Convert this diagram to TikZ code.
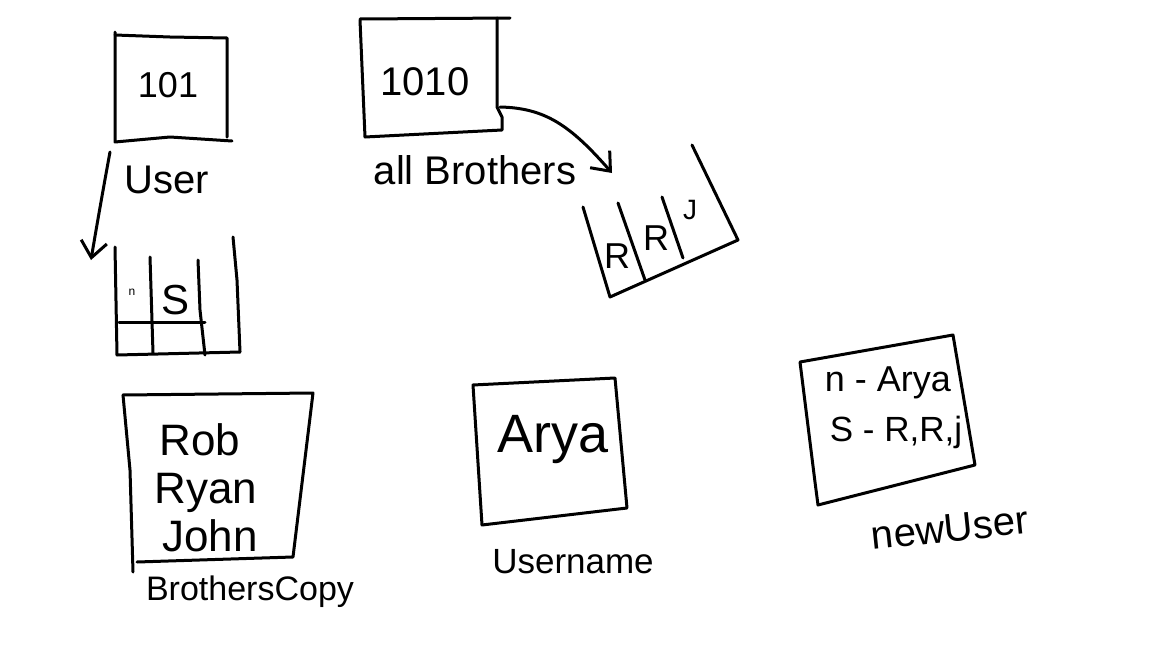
\documentclass[tikz,border=0pt]{standalone}
\usepackage{fontspec}
\setmainfont{Liberation Sans}
\usetikzlibrary{arrows.meta}
\newcommand\fsz[1]{\fontsize{#1pt}{#1pt}\selectfont}
\begin{document}
\begin{tikzpicture}[x=1pt,y=-1pt,
  ink/.style={draw=black, line width=3pt, line cap=round, line join=round},
  txt/.style={inner sep=0pt, text=black},
  conn/.style={ink, -{Straight Barb[length=16pt,width=26pt,line width=3pt]}}]
\useasboundingbox (0,0) rectangle (1152,648);
\fill[white] (0,0) rectangle (1152,648);

% ---- box 101 ----
\draw[ink] (115,32) -- (115,142) -- (170,137) -- (232,141);
\draw[ink] (115,35) -- (170,37) -- (227,38) -- (227,137);
\node[txt, font=\fsz{36}] (v101) at (168,85) {101};
\node[txt, font=\fsz{40}] (lUser) at (167,180) {User};
\coordinate (a1s) at (110,152);
\coordinate (a1e) at (91,260);

% ---- user grid ----
\draw[ink] (115,247) -- (117,355) -- (240,352);
\draw[ink] (233,237) -- (237,280) -- (240,352);
\draw[ink] (150,257) -- (153,353);
\draw[ink] (198,260) -- (200,310) -- (205,355);
\draw[ink] (119,322) -- (205,322);
\node[txt, font=\fsz{12}] (gn) at (132,292) {n};
\node[txt, font=\fsz{42}] (gS) at (176,300) {S};
\draw[conn] (a1s) .. controls (103,190) and (96,230) .. (a1e);

% ---- box 1010 ----
\draw[ink] (360,19) -- (510,18);
\draw[ink] (360,20) -- (365,137) -- (502,130) -- (502,117) -- (497,107) -- (497,18);
\node[txt, font=\fsz{40}] (v1010) at (425,82) {1010};
\node[txt, font=\fsz{40}] (lall) at (475,170) {all Brothers};
\coordinate (a2s) at (500,107);
\coordinate (a2e) at (612,173);
\draw[conn] (a2s) .. controls (545,108) and (570,125) .. (a2e);

% ---- brothers array ----
\draw[ink] (583,207) -- (610,297) -- (738,240) -- (692,145);
\draw[ink] (618,203) -- (645,280);
\draw[ink] (662,197) -- (683,258);
\node[txt, font=\fsz{36}] (aR1) at (617,256) {R};
\node[txt, font=\fsz{36}] (aR2) at (656,238) {R};
\node[txt, font=\fsz{28}] (aJ) at (690,210) {J};

% ---- BrothersCopy box ----
\draw[ink] (123,395) -- (313,393) -- (293,557) -- (137,562);
\draw[ink] (123,395) -- (130,470) -- (133,572);
\node[txt, font=\fsz{44}, anchor=base] (nRob) at (200,455) {Rob};
\node[txt, font=\fsz{44}, anchor=base] (nRyan) at (206,503) {Ryan};
\node[txt, font=\fsz{44}, anchor=base] (nJohn) at (210,551) {John};
\node[txt, font=\fsz{34}] (lcopy) at (250,592) {BrothersCopy};

% ---- Username box ----
\draw[ink] (473,385) -- (615,378) -- (627,508) -- (482,525) -- cycle;
\node[txt, font=\fsz{54}] (arya) at (553,440) {Arya};
\node[txt, font=\fsz{35}] (luser) at (573,562) {Username};

% ---- newUser box ----
\draw[ink] (800,362) -- (953,335) -- (975,465) -- (818,505) -- (815,482) -- cycle;
\node[txt, font=\fsz{36}] (nl1) at (888,383) {n - Arya};
\node[txt, font=\fsz{35}] (nl2) at (896,432) {S - R,R,j};
\node[txt, font=\fsz{40}, rotate=6] (lnew) at (950,528) {newUser};
\end{tikzpicture}
\end{document}
